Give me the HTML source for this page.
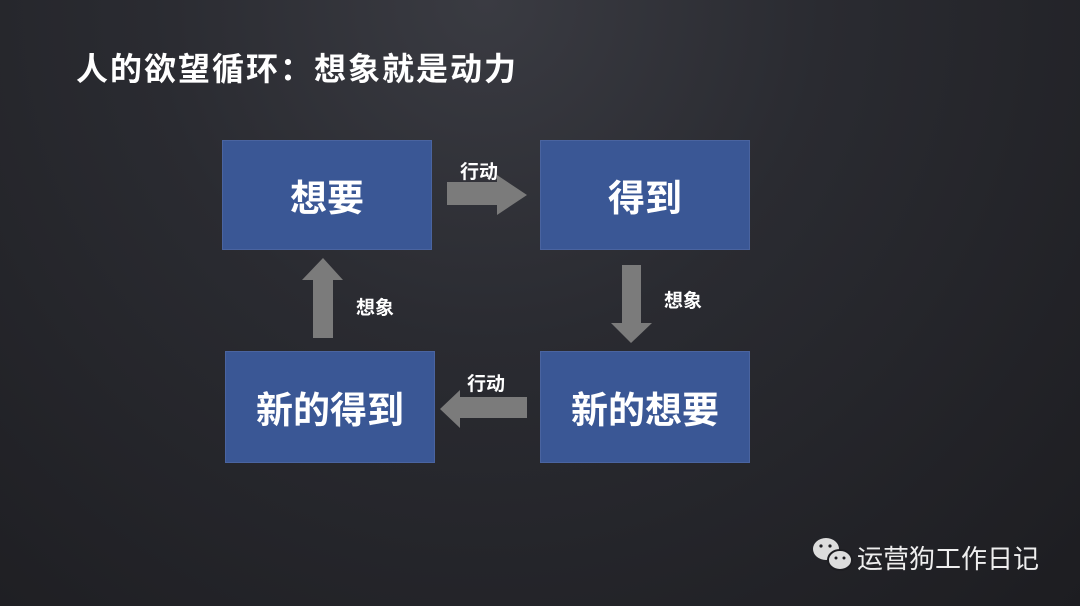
<html><head><style>
body{margin:0;width:1080px;height:606px;overflow:hidden;background:radial-gradient(ellipse at 45% 0%,#3a3b42 0%,#2a2b31 40%,#1d1d21 100%);font-family:"Liberation Sans","Noto Sans CJK SC",sans-serif;position:relative}
.t{position:absolute;left:76px;top:44px;color:#fff;font-size:32px;font-weight:bold;letter-spacing:2px}
.b{position:absolute;background:#3a5795;color:#fff;font-weight:bold;font-size:37px;display:flex;align-items:center;justify-content:center;border:1px solid #4a64a0;box-sizing:border-box}
.l{position:absolute;color:#fff;font-weight:bold;font-size:19px}
</style></head><body>
<div class="t">人的欲望循环：想象就是动力</div>
<div class="b" style="left:222px;top:140px;width:210px;height:110px">想要</div>
<div class="b" style="left:540px;top:140px;width:210px;height:110px">得到</div>
<div class="b" style="left:225px;top:351px;width:210px;height:112px">新的得到</div>
<div class="b" style="left:540px;top:351px;width:210px;height:112px">新的想要</div>
<svg width="1080" height="606" style="position:absolute;left:0;top:0">
<g fill="#7b7b7b">
<polygon points="447,182 497,182 497,175 527,195 497,215 497,205 447,205"/>
<polygon points="622,265 641,265 641,323 652,323 631,343 611,323 622,323"/>
<polygon points="527,397 460,397 460,390 440,409 460,428 460,418 527,418"/>
<polygon points="313,338 333,338 333,280 343,280 323,258 302,280 313,280"/>
</g>
<g fill="#ddd"><ellipse cx="826" cy="549" rx="13" ry="11"/><ellipse cx="840" cy="560" rx="12" ry="10" stroke="#1d1d21" stroke-width="2"/></g>
<g fill="#1d1d21"><circle cx="821" cy="546" r="1.6"/><circle cx="830" cy="546" r="1.6"/><circle cx="836" cy="558" r="1.5"/><circle cx="844" cy="558" r="1.5"/></g>
</svg>
<div class="l" style="left:460px;top:157px">行动</div>
<div class="l" style="left:664px;top:286px">想象</div>
<div class="l" style="left:356px;top:293px">想象</div>
<div class="l" style="left:467px;top:369px">行动</div>
<div style="position:absolute;left:857px;top:539px;color:#eee;font-size:26px">运营狗工作日记</div>
</body></html>
